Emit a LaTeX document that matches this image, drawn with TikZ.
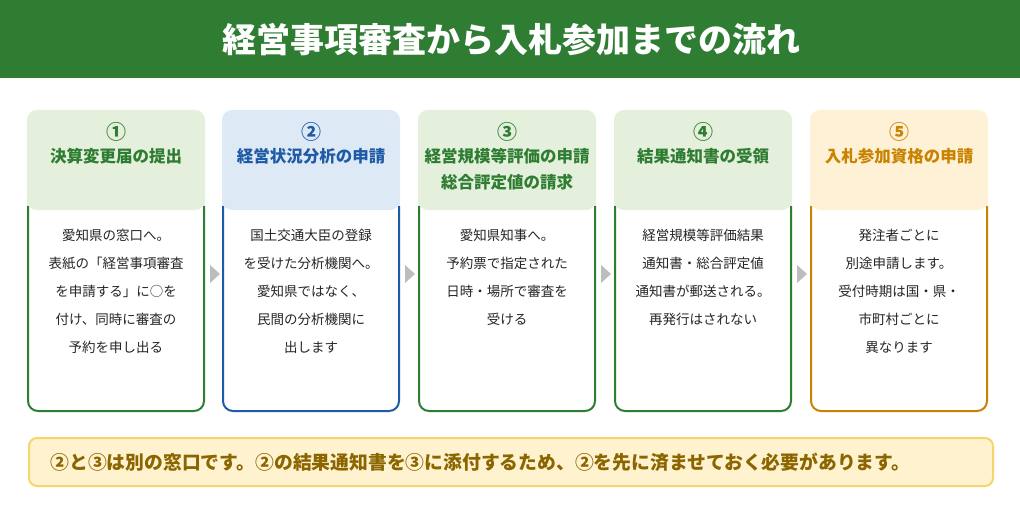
\documentclass[tikz,border=0pt]{standalone}
\usepackage{fontspec}
\setmainfont{Noto Sans CJK JP}
\usetikzlibrary{positioning}
\definecolor{titlegreen}{HTML}{2E7D32}
\definecolor{hdgreen}{HTML}{E4F0DC}
\definecolor{hdblue}{HTML}{DDE9F5}
\definecolor{hdorange}{HTML}{FFF1D6}
\definecolor{lngreen}{HTML}{2E7D32}
\definecolor{lnblue}{HTML}{1F5AA6}
\definecolor{lnorange}{HTML}{C98300}
\definecolor{notefill}{HTML}{FFF3CF}
\definecolor{noteline}{HTML}{F5D56E}
\definecolor{notetext}{HTML}{8A6500}
\definecolor{arrowgray}{HTML}{BDBDBD}
\tikzset{
  head/.style={font=\bfseries\fontsize{16.5}{26}\selectfont, align=center, anchor=north},
  numb/.style={font=\bfseries\fontsize{20}{22}\selectfont, anchor=north},
  body/.style={font=\fontsize{13.5}{28}\selectfont, text=black!85, align=center, anchor=north},
}
\begin{document}
\begin{tikzpicture}[x=1pt,y=-1pt]
\useasboundingbox (0,0) rectangle (1020,516);
\fill[white] (0,0) rectangle (1020,516);
%title
\fill[titlegreen] (0,0) rectangle (1020,78);
\node[font=\bfseries\fontsize{34}{36}\selectfont, text=white] (title) at (511,40) {経営事項審査から入札参加までの流れ};
%cards
\foreach \x/\hd/\ln/\num/\hname/\btext [count=\i] in {
  27/hdgreen/lngreen/①/{決算変更届の提出}/{愛知県の窓口へ。\\表紙の「経営事項審査\\を申請する」に○を\\付け、同時に審査の\\予約を申し出る},
  222/hdblue/lnblue/②/{経営状況分析の申請}/{国土交通大臣の登録\\を受けた分析機関へ。\\愛知県ではなく、\\民間の分析機関に\\出します},
  418/hdgreen/lngreen/③/{経営規模等評価の申請\\総合評定値の請求}/{愛知県知事へ。\\予約票で指定された\\日時・場所で審査を\\受ける},
  614/hdgreen/lngreen/④/{結果通知書の受領}/{経営規模等評価結果\\通知書・総合評定値\\通知書が郵送される。\\再発行はされない},
  810/hdorange/lnorange/⑤/{入札参加資格の申請}/{発注者ごとに\\別途申請します。\\受付時期は国・県・\\市町村ごとに\\異なります}}
{
  \fill[\hd, rounded corners=10pt] (\x,110) rectangle ++(178,100);
  \fill[\hd] (\x,195) rectangle ++(178,12);
  \draw[\ln, line width=2pt, rounded corners=10pt] (\x+1,206) -- (\x+1,411) -- (\x+177,411) -- (\x+177,206);
  \node[numb, text=\ln] (num\i) at (\x+89,119) {\num};
  \node[head, text=\ln] (head\i) at (\x+89,145) {\hname};
  \node[body] (body\i) at (\x+89,226) {\btext};
}
%arrows
\foreach \x in {210,405,601,797}
  \fill[arrowgray] (\x,265) -- ++(10,9) -- ++(-10,9) -- cycle;
%note
\node[draw=noteline, line width=2pt, fill=notefill, rounded corners=8pt, minimum width=964pt, minimum height=48pt, anchor=north west, inner sep=0pt] (note) at (28,437) {};
\node[font=\bfseries\fontsize{18.8}{20}\selectfont, text=notetext, anchor=west] (notetext) at (47,462) {②と③は別の窓口です。②の結果通知書を③に添付するため、②を先に済ませておく必要があります。};
\end{tikzpicture}
\end{document}
